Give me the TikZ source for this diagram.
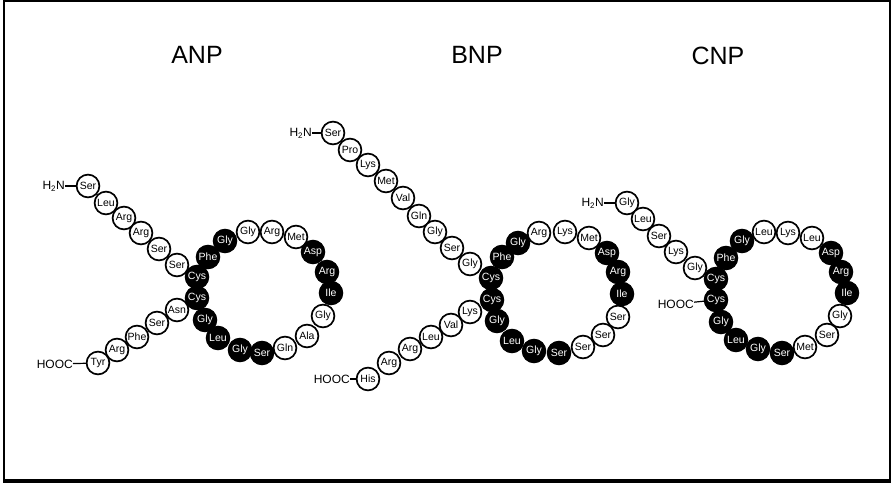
\documentclass[tikz,border=0pt]{standalone}
\usepackage{fontspec}
\setmainfont{Liberation Sans}
\begin{document}
\begin{tikzpicture}[x=1pt,y=-1pt,
  wres/.style={circle,draw=black,line width=1.7pt,minimum size=22.8pt,inner sep=0pt,fill=white,text=black,font=\fontsize{10.5}{11}\selectfont},
  bres/.style={wres,fill=black,text=white},
  term/.style={inner sep=0pt,font=\fontsize{12}{12}\selectfont},
  title/.style={inner sep=0pt,font=\fontsize{25}{26}\selectfont},
  bond/.style={line width=1.2pt}]
\useasboundingbox (0,0) rectangle (892,486);
\draw[line width=2pt] (4,1.5) rectangle (889.5,481);
\draw[line width=4pt] (3,481) -- (890.5,481);
% titles
\node[title] (tA) at (197,55) {ANP};
\node[title] (tB) at (477,55) {BNP};
\node[title] (tC) at (718,56) {CNP};
% ---------------- ANP ----------------
\foreach \n/\x/\y/\t/\s in {
  1/88/186/Ser/wres, 2/106/203/Leu/wres, 3/124/218/Arg/wres, 4/141/233/Arg/wres,
  5/159/249/Ser/wres, 6/177/265/Ser/wres,
  28/177/310/Asn/wres, 29/157/323/Ser/wres, 30/137/337/Phe/wres, 31/117/350/Arg/wres, 32/98/363/Tyr/wres,
  8/208/257/Phe/bres, 9/225/241/Gly/bres, 10/248/232/Gly/wres, 11/272/232/Arg/wres,
  12/296/237/Met/wres, 13/313/252/Asp/bres, 14/327/272/Arg/bres, 15/331/293/Ile/bres,
  16/323/316/Gly/wres, 17/307/336/Ala/wres, 18/285/348/Gln/wres, 19/262/353/Ser/bres,
  20/240/350/Gly/bres, 21/218/338/Leu/bres, 22/205/320/Gly/bres,
  7/197/277/Cys/bres, 23/197/298/Cys/bres}
  \node[\s] (a\n) at (\x,\y) {\t};
\node[term,anchor=east] (aN) at (65,186) {H\textsubscript{2}N};
\node[term,anchor=east] (aC) at (73,364) {HOOC};
\draw[bond] (aN) -- (a1);
\draw[bond] (aC) -- (a32);
% ---------------- BNP ----------------
\foreach \n/\x/\y/\t/\s in {
  1/333/133/Ser/wres, 2/350/150/Pro/wres, 3/368/165/Lys/wres, 4/386/181/Met/wres,
  5/403/198/Val/wres, 6/419/216/Gln/wres, 7/435/232/Gly/wres, 8/452/248/Ser/wres,
  9/470/264/Gly/wres,
  28/470/312/Lys/wres, 29/451/325/Val/wres, 30/431/337/Leu/wres, 31/410/349/Arg/wres,
  32/389/363/Arg/wres, 33/368/379/His/wres,
  11/502/257/Phe/bres, 12/518/243/Gly/bres, 13/539/233/Arg/wres, 14/565/232/Lys/wres,
  15/589/238/Met/wres, 16/607/253/Asp/bres, 17/618/272/Arg/bres, 18/622/294/Ile/bres,
  19/618/317/Ser/wres, 20/603/335/Ser/wres, 21/583/347/Ser/wres, 22/559/353/Ser/bres,
  23/534/351/Gly/bres, 24/512/341/Leu/bres, 25/497/321/Gly/bres,
  10/491/278/Cys/bres, 26/492/300/Cys/bres}
  \node[\s] (b\n) at (\x,\y) {\t};
\node[term,anchor=east] (bN) at (312,133) {H\textsubscript{2}N};
\node[term,anchor=east] (bC) at (350,379) {HOOC};
\draw[bond] (bN) -- (b1);
\draw[bond] (bC) -- (b33);
% ---------------- CNP ----------------
\foreach \n/\x/\y/\t/\s in {
  1/627/203/Gly/wres, 2/643/219/Leu/wres, 3/659/236/Ser/wres, 4/676/252/Lys/wres,
  5/695/268/Gly/wres,
  7/726/258/Phe/bres, 8/742/241/Gly/bres, 9/764/232/Leu/wres, 10/788/233/Lys/wres,
  11/812/238/Leu/wres, 12/831/253/Asp/bres, 13/841/272/Arg/bres, 14/847/293/Ile/bres,
  15/840/316/Gly/wres, 16/827/335/Ser/wres, 17/805/347/Met/wres, 18/782/353/Ser/bres,
  19/758/349/Gly/bres, 20/736/340/Leu/bres, 21/721/322/Gly/bres,
  6/716/279/Cys/bres, 22/716/300/Cys/bres}
  \node[\s] (c\n) at (\x,\y) {\t};
\node[term,anchor=east] (cN) at (604,203) {H\textsubscript{2}N};
\node[term,anchor=east] (cC) at (694,304) {HOOC};
\draw[bond] (cN) -- (c1);
\draw[bond] (cC) -- (c22);
\end{tikzpicture}
\end{document}
